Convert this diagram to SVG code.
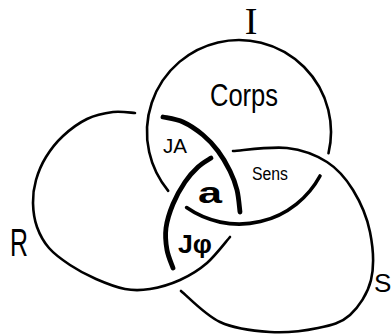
<svg xmlns="http://www.w3.org/2000/svg" width="392" height="334" viewBox="0 0 392 334">
<style>
.ring{fill:none;stroke:#000;stroke-linecap:round;stroke-linejoin:round}
.thin{stroke-width:2.6}
.mid{stroke-width:3.6}
.thick{stroke-width:4.8}
.lbl{font-family:"Liberation Sans","DejaVu Sans",sans-serif;fill:#000}
</style>
<rect width="392" height="334" fill="#fff"/>
<g id="ring-I">
<path class="ring thin" d="M168.2,190.8 A92,92 0 1 1 328.5,153.2"/>
<path class="ring mid" d="M320,176 A92,92 0 0 1 186.6,207.6"/>
</g>
<g id="ring-R">
<path class="ring thin" d="M135,113 C131.3,112.8 121,111 113,112 C105,113 95.3,115 87,119 C78.7,123 69.8,129.7 63,136 C56.2,142.3 50.5,149.7 46,157 C41.5,164.3 38.2,172.3 36,180 C33.8,187.7 32.8,195.2 33,203 C33.2,210.8 34.3,219.5 37,227 C39.7,234.5 43.5,241.7 49,248 C54.5,254.3 62.2,259.8 70,265 C77.8,270.2 86.8,275 96,279 C105.2,283 116,287.3 125,289 C134,290.7 140.8,290.5 150,289 C159.2,287.5 170.5,284.3 180,280 C189.5,275.7 198.7,270.2 207,263 C215.3,255.8 226.2,241.3 230,237"/>
<path class="ring thick" d="M163,117 C166.3,117.8 176.3,119 183,122 C189.7,125 197.2,130.2 203,135 C208.8,139.8 213.5,145 218,151 C222.5,157 226.8,164.5 230,171 C233.2,177.5 235.3,183.2 237,190 C238.7,196.8 239.5,208.3 240,212"/>
</g>
<g id="ring-S">
<path class="ring thin" d="M233,151 C242,150.5 271.3,146.2 287,148 C302.7,149.8 316,155 327,162 C338,169 345.8,178.3 353,190 C360.2,201.7 367,217 370,232 C373,247 374.3,266.2 371,280 C367.7,293.8 358.8,307 350,315 C341.2,323 331.3,325.2 318,328 C304.7,330.8 286.3,333 270,332 C253.7,331 234.8,328.8 220,322 C205.2,315.2 187.5,296.2 181,291"/>
<path class="ring thick" d="M211,158 C208.8,159.5 202.3,163 198,167 C193.7,171 189.2,175.8 185,182 C180.8,188.2 176.2,196.3 173,204 C169.8,211.7 167,220.3 166,228 C165,235.7 165.8,243.3 167,250 C168.2,256.7 172,265 173,268"/>
</g>
<g id="labels">
<text class="lbl" x="251" y="34" style="font-family:'Liberation Serif',serif" font-size="38" text-anchor="middle">I</text>
<text class="lbl" x="10" y="256" font-size="38" textLength="18" lengthAdjust="spacingAndGlyphs">R</text>
<text class="lbl" x="374" y="292" font-size="26">S</text>
<text class="lbl" x="210" y="106" font-size="32" textLength="68" lengthAdjust="spacingAndGlyphs">Corps</text>
<text class="lbl" x="163" y="153" font-size="21" textLength="24" lengthAdjust="spacingAndGlyphs">JA</text>
<text class="lbl" x="252" y="180" font-size="18" textLength="36" lengthAdjust="spacingAndGlyphs">Sens</text>
<text class="lbl" x="198" y="203" font-size="30" font-weight="bold" textLength="24" lengthAdjust="spacingAndGlyphs">a</text>
<text class="lbl" x="178" y="253" font-size="26" font-weight="bold" textLength="34" lengthAdjust="spacingAndGlyphs">Jφ</text>
</g>
</svg>
